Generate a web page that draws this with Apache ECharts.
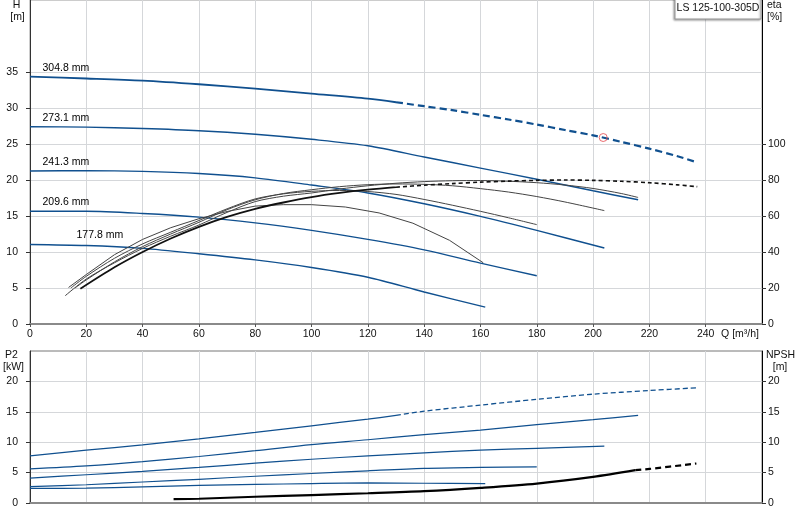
<!DOCTYPE html>
<html>
<head>
<meta charset="utf-8">
<script src="https://cdn.jsdelivr.net/npm/echarts@6/dist/echarts.min.js"></script>
<style>
  html, body { margin: 0; padding: 0; background: #fff; }
  #main { width: 800px; height: 520px; }
</style>
</head>
<body>
<div id="main"></div>
<script>
// impeller diameters
var diameters = ['177.8 mm', '209.6 mm', '241.3 mm', '273.1 mm', '304.8 mm'];

// head H [m] against Q [m3/h]
var h1778 = [[0,11.05],[20,10.9],[40,10.5],[60,9.75],[80,8.9],[100,7.85],[120,6.5],[140,4.45],[161.7,2.35]];
var h2096 = [[0,15.65],[20,15.65],[40,15.35],[60,14.85],[80,14.05],[100,13.0],[120,11.75],[140,10.3],[160,8.45],[180,6.7]];
var h2413 = [[0,21.25],[20,21.3],[40,21.2],[60,20.9],[80,20.3],[100,19.3],[120,18.2],[140,16.7],[160,14.95],[180,13.0],[204,10.55]];
var h2731 = [[0,27.4],[20,27.35],[40,27.15],[60,26.85],[80,26.35],[100,25.65],[120,24.75],[140,23.2],[160,21.65],[180,20.1],[200,18.5],[216,17.25]];
var h3048 = [[0,34.35],[20,34.1],[40,33.8],[60,33.3],[80,32.7],[100,32.0],[120,31.3],[130,30.8],[140,30.25],[150,29.7],[160,29.05],[170,28.4],[180,27.7],[190,26.95],[200,26.2],[210,25.3],[220,24.35],[230,23.3],[236.5,22.5]];

// efficiency eta [%]
var e1778 = [[13.7,20.3],[20,27.5],[30,38.5],[40,47],[50,53.5],[60,58.5],[70,62.5],[80,65.5],[90,66.3],[100,66.3],[112,65],[124,61.7],[136,56],[149,46.5],[161,34]];
var e2096 = [[14.5,20],[20,26.5],[30,36.5],[40,44.5],[50,51],[60,57.5],[70,64],[80,69.5],[90,72.3],[100,73.7],[110,74.2],[120,73.6],[130,72],[140,69.2],[150,66],[160,62.6],[170,59],[180,55.2]];
var e2413 = [[16,20],[20,24.5],[30,34.5],[40,43],[50,50],[60,56.5],[70,63.5],[80,69],[90,72.5],[100,74.6],[110,76.3],[120,77.4],[130,77.8],[140,77.6],[150,76.8],[160,75.2],[170,73.3],[180,70.8],[190,67.8],[204,63]];
var e2731 = [[12.5,15.7],[20,25],[30,34],[40,42],[50,48.8],[60,55],[70,62],[80,68],[90,71],[100,72.8],[110,75],[120,76.8],[130,78.2],[140,79.1],[150,79.6],[160,79.7],[170,79.3],[180,78.5],[190,77.2],[200,75.3],[210,72.5],[216,70.3]];
var e3048 = [[17.9,19.6],[30,31.5],[40,40],[50,47.5],[60,54],[70,59.5],[80,64],[90,67.5],[100,70.5],[110,72.8],[120,74.6],[130,76],[140,77.1],[150,78],[160,78.8],[170,79.4],[180,79.8],[190,80],[200,79.8],[210,79.3],[220,78.5],[230,77.3],[237,76.3]];

// shaft power P2 [kW]
var p1778 = [[0,2.4],[20,2.45],[40,2.65],[60,2.9],[80,3.05],[100,3.2],[120,3.3],[140,3.25],[161.7,3.2]];
var p2096 = [[0,2.7],[20,3.0],[40,3.45],[60,3.9],[80,4.4],[100,4.85],[120,5.3],[140,5.7],[160,5.85],[180,5.95]];
var p2413 = [[0,4.1],[20,4.65],[40,5.2],[60,5.85],[80,6.55],[100,7.2],[120,7.75],[140,8.25],[160,8.7],[180,9.0],[204,9.35]];
var p2731 = [[0,5.6],[20,6.1],[40,6.8],[60,7.65],[80,8.6],[100,9.6],[120,10.4],[140,11.25],[160,12.0],[180,12.9],[200,13.7],[216,14.4]];
var p3048 = [[0,7.75],[20,8.7],[40,9.55],[60,10.55],[80,11.6],[100,12.7],[120,13.8],[130,14.4],[140,15.1],[160,16.1],[180,17.05],[200,17.9],[220,18.5],[236.7,18.95]];

// NPSH [m]
var npsh = [[51,0.65],[60,0.7],[80,1.03],[100,1.3],[120,1.6],[140,1.95],[160,2.5],[180,3.2],[200,4.3],[215,5.4],[220,5.6],[236.7,6.5]];

// duty point
var dutyPoint = [[203.6, 25.9]];

// where the curves of the big impeller turn dashed
var dashFrom = 130;
var npshDashFrom = 215;

var qTicks = [0,20,40,60,80,100,120,140,160,180,200,220,240];
var hTicks = [0,5,10,15,20,25,30,35];
var etaTicks = [0,20,40,60,80,100];
var pTicks = [0,5,10,15,20];

var blue = '#10508f';
var font = 'Liberation Sans, Arial, sans-serif';
var txt = '#111';

function before(arr, q0) { return arr.filter(function (p) { return p[0] <= q0; }); }
function after(arr, q0) { return arr.filter(function (p) { return p[0] >= q0; }); }

function line(name, data, xi, yi, color, width, dash, smooth) {
    return {
        name: name,
        type: 'line',
        xAxisIndex: xi,
        yAxisIndex: yi,
        data: data,
        symbol: 'none',
        smooth: smooth === undefined ? 0.3 : smooth,
        silent: true,
        lineStyle: { color: color, width: width, type: dash || 'solid' },
        z: 3
    };
}

var hCurves = [h1778, h2096, h2413, h2731, h3048];
var labelDx = [47, 13, 13, 13, 13];

var series = [];
// head curves
series.push(line('H 177.8', h1778, 0, 0, blue, 1.4));
series.push(line('H 209.6', h2096, 0, 0, blue, 1.4));
series.push(line('H 241.3', h2413, 0, 0, blue, 1.4));
series.push(line('H 273.1', h2731, 0, 0, blue, 1.4));
series.push(line('H 304.8', before(h3048, dashFrom), 0, 0, blue, 1.8));
series.push(line('H 304.8 d', after(h3048, dashFrom), 0, 0, blue, 2.2, [7, 4]));

// diameter labels
series.push({
    type: 'scatter',
    xAxisIndex: 0,
    yAxisIndex: 0,
    symbolSize: 1,
    silent: true,
    itemStyle: { color: 'rgba(0,0,0,0)' },
    data: hCurves.map(function (c, i) {
        return {
            value: c[0],
            label: {
                show: true,
                formatter: diameters[i],
                position: [labelDx[i], -14],
                color: '#000',
                opacity: 1,
                textBorderWidth: 0,
                textBorderColor: 'transparent',
                fontSize: 10.5,
                fontFamily: font
            }
        };
    }),
    z: 6
});

// efficiency curves
series.push(line('eta 177.8', e1778, 0, 1, '#444', 1, 'solid', false));
series.push(line('eta 209.6', e2096, 0, 1, '#444', 1));
series.push(line('eta 241.3', e2413, 0, 1, '#444', 1));
series.push(line('eta 273.1', e2731, 0, 1, '#444', 1));
series.push(line('eta 304.8', before(e3048, dashFrom), 0, 1, '#111', 1.8));
series.push(line('eta 304.8 d', after(e3048, dashFrom), 0, 1, '#111', 1.6, [4, 3]));

// duty point
series.push({
    type: 'scatter',
    xAxisIndex: 0,
    yAxisIndex: 0,
    data: dutyPoint,
    symbol: 'circle',
    symbolSize: 8,
    silent: true,
    itemStyle: { color: 'rgba(255,255,255,0)', borderColor: '#e5484d', borderWidth: 1 },
    z: 5
});

// power curves
series.push(line('P2 177.8', p1778, 1, 2, blue, 1.2));
series.push(line('P2 209.6', p2096, 1, 2, blue, 1.2));
series.push(line('P2 241.3', p2413, 1, 2, blue, 1.2));
series.push(line('P2 273.1', p2731, 1, 2, blue, 1.2));
series.push(line('P2 304.8', before(p3048, dashFrom), 1, 2, blue, 1.3));
series.push(line('P2 304.8 d', after(p3048, dashFrom), 1, 2, blue, 1.3, [5, 3]));

// npsh
series.push(line('NPSH', before(npsh, npshDashFrom), 1, 3, '#000', 2.2));
series.push(line('NPSH d', after(npsh, npshDashFrom), 1, 3, '#000', 2.2, [6, 4]));

var splitStyle = { show: true, lineStyle: { color: '#d5d7da', width: 1 } };

function xAx(gi, labels) {
    return {
        type: 'value',
        gridIndex: gi,
        min: 0,
        max: 260,
        interval: 20,
        axisLine: { show: true, onZero: false, lineStyle: { color: '#8a8a8a', width: 2 } },
        axisTick: { show: labels, length: 3, customValues: qTicks, lineStyle: { color: '#555' } },
        axisLabel: { show: labels, customValues: qTicks, margin: 5, color: txt, fontSize: 10.5, fontFamily: font },
        splitLine: splitStyle
    };
}

function yAx(gi, pos, max, interval, ticks, split) {
    return {
        type: 'value',
        gridIndex: gi,
        position: pos,
        min: 0,
        max: max,
        interval: interval,
        axisLine: { show: true, onZero: false, lineStyle: { color: pos === 'left' ? '#333' : '#000', width: 1 } },
        axisTick: { show: true, length: 4, customValues: ticks, lineStyle: { color: '#333' } },
        axisLabel: {
            customValues: ticks,
            margin: pos === 'left' ? 12 : 6,
            color: txt,
            fontSize: 10.5,
            fontFamily: font
        },
        splitLine: split ? splitStyle : { show: false }
    };
}

function t(text, x, y, align) {
    return {
        type: 'text',
        x: x,
        y: y,
        silent: true,
        style: { text: text, fill: txt, font: '10.5px ' + font, textAlign: align || 'center', textVerticalAlign: 'middle' }
    };
}

var option = {
    animation: false,
    backgroundColor: '#fff',
    grid: [
        { left: 30, right: 38, top: 0, bottom: 196, show: true, borderColor: '#999', borderWidth: 1 },
        { left: 30, right: 38, top: 351, bottom: 17, show: true, borderColor: '#777', borderWidth: 1 }
    ],
    xAxis: [xAx(0, true), xAx(1, false)],
    yAxis: [
        yAx(0, 'left', 45, 5, hTicks, true),
        yAx(0, 'right', 180, 20, etaTicks, false),
        yAx(1, 'left', 25, 5, pTicks, true),
        yAx(1, 'right', 25, 5, pTicks, false)
    ],
    series: series,
    graphic: [
        {
            type: 'rect',
            shape: { x: 675, y: -3, width: 86, height: 22 },
            style: { fill: '#fff', stroke: '#999', lineWidth: 1, shadowBlur: 2, shadowColor: 'rgba(0,0,0,0.35)', shadowOffsetX: -1, shadowOffsetY: 1 },
            z: 100
        },
        {
            type: 'text', x: 718, y: 8.5, z: 101, silent: true,
            style: { text: 'LS 125-100-305D', fill: txt, font: '10.5px ' + font, textAlign: 'center', textVerticalAlign: 'middle' }
        },
        t('H', 16.5, 5),
        t('[m]', 17.5, 17),
        t('eta', 767, 5, 'left'),
        t('[%]', 767, 17, 'left'),
        t('Q [m\u00b3/h]', 740, 334),
        t('P2', 11.5, 355),
        t('[kW]', 13.5, 367),
        t('NPSH', 766, 355, 'left'),
        t('[m]', 780, 367)
    ]
};

var chart = echarts.init(document.getElementById('main'));
chart.setOption(option);
</script>
</body>
</html>
